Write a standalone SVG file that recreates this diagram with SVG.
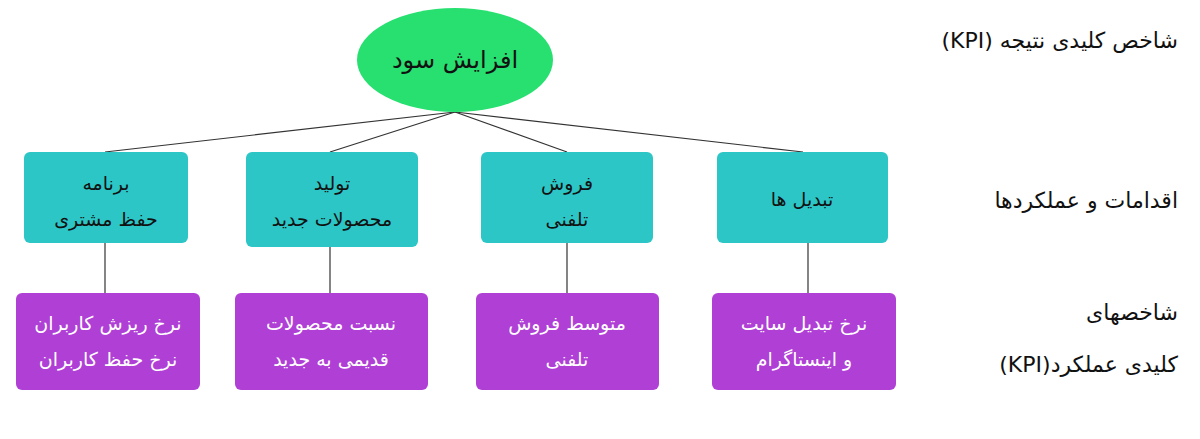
<svg xmlns="http://www.w3.org/2000/svg" width="1200" height="439" viewBox="0 0 1200 439">
<style>
text{font-family:"DejaVu Sans","Noto Sans",sans-serif;}
.t{fill:#2cc6c6;}
.p{fill:#b03fd6;}
.n{font-size:19px;fill:#111;text-anchor:middle;}
.w{font-size:19px;fill:#fff;text-anchor:middle;}
.r{font-size:22px;fill:#111;direction:rtl;text-anchor:start;}
.c{stroke:#333;stroke-width:1.2;fill:none;}
</style>
<rect width="1200" height="439" fill="#fff"/>
<g id="connectors">
<line class="c" x1="455" y1="112" x2="105" y2="152"/>
<line class="c" x1="455" y1="112" x2="330" y2="152"/>
<line class="c" x1="455" y1="112" x2="567" y2="152"/>
<line class="c" x1="455" y1="112" x2="803" y2="152"/>
<line class="c" x1="105" y1="243" x2="105" y2="293"/>
<line class="c" x1="330" y1="247" x2="330" y2="293"/>
<line class="c" x1="567" y1="243" x2="567" y2="293"/>
<line class="c" x1="808" y1="243" x2="808" y2="293"/>
</g>
<g id="root"><ellipse cx="455" cy="60" rx="98" ry="52" fill="#27e070"/><text class="n" x="455" y="68" font-size="24" style="font-size:24px">افزایش سود</text></g>
<g id="a1"><rect class="t" x="24" y="152" width="164" height="91" rx="6"/><text class="n" x="106" y="190">برنامه</text><text class="n" x="106" y="226">حفظ مشتری</text></g>
<g id="a2"><rect class="t" x="246" y="152" width="172" height="95" rx="6"/><text class="n" x="332" y="190">تولید</text><text class="n" x="332" y="226">محصولات جدید</text></g>
<g id="a3"><rect class="t" x="481" y="152" width="172" height="91" rx="6"/><text class="n" x="567" y="190">فروش</text><text class="n" x="567" y="226">تلفنی</text></g>
<g id="a4"><rect class="t" x="717" y="152" width="171" height="91" rx="6"/><text class="n" x="802" y="206">تبدیل ها</text></g>
<g id="k1"><rect class="p" x="16" y="293" width="184" height="97" rx="6"/><text class="w" x="108" y="330">نرخ ریزش کاربران</text><text class="w" x="108" y="366">نرخ حفظ کاربران</text></g>
<g id="k2"><rect class="p" x="235" y="293" width="193" height="97" rx="6"/><text class="w" x="331" y="330">نسبت محصولات</text><text class="w" x="331" y="366">قدیمی به جدید</text></g>
<g id="k3"><rect class="p" x="476" y="293" width="183" height="97" rx="6"/><text class="w" x="567" y="330">متوسط فروش</text><text class="w" x="567" y="366">تلفنی</text></g>
<g id="k4"><rect class="p" x="712" y="293" width="184" height="97" rx="6"/><text class="w" x="804" y="330">نرخ تبدیل سایت</text><text class="w" x="804" y="366">و اینستاگرام</text></g>
<g id="labels">
<text class="r" x="1178" y="48">شاخص کلیدی نتیجه (KPI)</text>
<text class="r" x="1178" y="208">اقدامات و عملکردها</text>
<text class="r" x="1178" y="320">شاخصهای</text>
<text class="r" x="1178" y="372">کلیدی عملکرد(KPI)</text>
</g>
</svg>
